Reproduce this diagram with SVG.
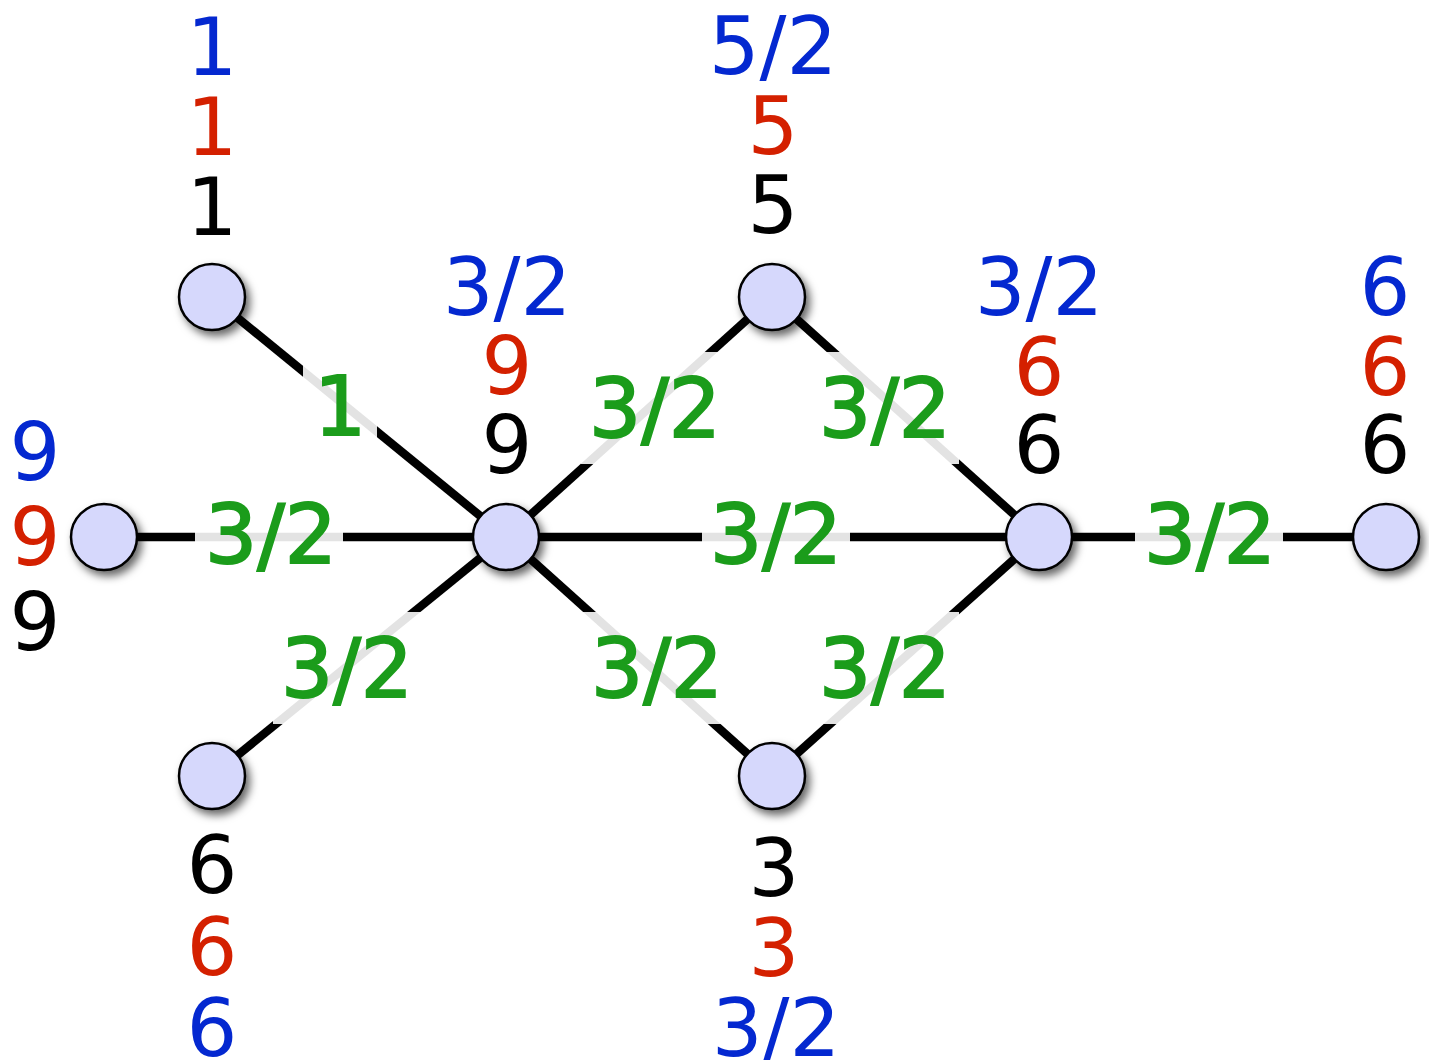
<svg xmlns="http://www.w3.org/2000/svg" width="1429" height="1060" viewBox="0 0 1429 1060">
<defs>
<filter id="sh" x="-40%" y="-40%" width="190%" height="190%">
<feDropShadow dx="4" dy="5" stdDeviation="4" flood-color="#000" flood-opacity="0.6"/>
</filter>
<style>
.edge{stroke:#000;stroke-width:8.5;fill:none}
.lbg{fill:#fff;fill-opacity:0.89}
.el{font-family:"DejaVu Sans",sans-serif;font-size:82px;fill:#1b9c1b;stroke:#1b9c1b;stroke-width:2;text-anchor:middle}
.node{fill:#d6d8fc;stroke:#000;stroke-width:2.5;filter:url(#sh)}
.t{font-family:"DejaVu Sans",sans-serif;font-size:80px;text-anchor:middle}
.b{fill:#0428d0}
.r{fill:#d42000}
.k{fill:#000}
</style>
</defs>
<rect width="1429" height="1060" fill="#fff"/>
<g id="connectors">
<line class="edge" x1="212" y1="297" x2="506" y2="537"/>
<line class="edge" x1="104" y1="537" x2="506" y2="537"/>
<line class="edge" x1="506" y1="537" x2="772" y2="297"/>
<line class="edge" x1="772" y1="297" x2="1039" y2="537"/>
<line class="edge" x1="506" y1="537" x2="1039" y2="537"/>
<line class="edge" x1="1039" y1="537" x2="1386" y2="537"/>
<line class="edge" x1="506" y1="537" x2="212" y2="776"/>
<line class="edge" x1="506" y1="537" x2="772" y2="776"/>
<line class="edge" x1="772" y1="776" x2="1039" y2="537"/>
<rect class="lbg" x="303" y="352" width="74" height="112"/>
<rect class="lbg" x="195" y="477" width="148" height="112"/>
<rect class="lbg" x="581" y="352" width="148" height="112"/>
<rect class="lbg" x="811" y="352" width="148" height="112"/>
<rect class="lbg" x="702" y="477" width="148" height="112"/>
<rect class="lbg" x="1135" y="477" width="148" height="112"/>
<rect class="lbg" x="273" y="612" width="148" height="112"/>
<rect class="lbg" x="583" y="612" width="148" height="112"/>
<rect class="lbg" x="811" y="612" width="148" height="112"/>
<text class="el" x="340" y="435">1</text>
<text class="el" x="271" y="563">3/2</text>
<text class="el" x="655" y="437">3/2</text>
<text class="el" x="885" y="437">3/2</text>
<text class="el" x="776" y="563">3/2</text>
<text class="el" x="1210" y="563">3/2</text>
<text class="el" x="347" y="697">3/2</text>
<text class="el" x="657" y="697">3/2</text>
<text class="el" x="885" y="697">3/2</text>
</g>
<g id="nodeA">
<circle class="node" cx="212" cy="297" r="33"/>
<text class="t b" x="212" y="75">1</text>
<text class="t r" x="212" y="155">1</text>
<text class="t k" x="212" y="235">1</text>
</g>
<g id="nodeB">
<circle class="node" cx="104" cy="537" r="33"/>
<text class="t b" x="35" y="480">9</text>
<text class="t r" x="35" y="565">9</text>
<text class="t k" x="35" y="650">9</text>
</g>
<g id="nodeC">
<circle class="node" cx="506" cy="537" r="33"/>
<text class="t b" x="507" y="315">3/2</text>
<text class="t r" x="507" y="394">9</text>
<text class="t k" x="507" y="473">9</text>
</g>
<g id="nodeD">
<circle class="node" cx="772" cy="297" r="33"/>
<text class="t b" x="773" y="74">5/2</text>
<text class="t r" x="773" y="154">5</text>
<text class="t k" x="773" y="233">5</text>
</g>
<g id="nodeE">
<circle class="node" cx="1039" cy="537" r="33"/>
<text class="t b" x="1039" y="315">3/2</text>
<text class="t r" x="1039" y="395">6</text>
<text class="t k" x="1039" y="473">6</text>
</g>
<g id="nodeF">
<circle class="node" cx="1386" cy="537" r="33"/>
<text class="t b" x="1385" y="315">6</text>
<text class="t r" x="1385" y="395">6</text>
<text class="t k" x="1385" y="473">6</text>
</g>
<g id="nodeG">
<circle class="node" cx="212" cy="776" r="33"/>
<text class="t k" x="212" y="893">6</text>
<text class="t r" x="212" y="975">6</text>
<text class="t b" x="212" y="1056">6</text>
</g>
<g id="nodeH">
<circle class="node" cx="772" cy="776" r="33"/>
<text class="t k" x="774" y="896">3</text>
<text class="t r" x="774" y="976">3</text>
<text class="t b" x="776" y="1056">3/2</text>
</g>
</svg>
